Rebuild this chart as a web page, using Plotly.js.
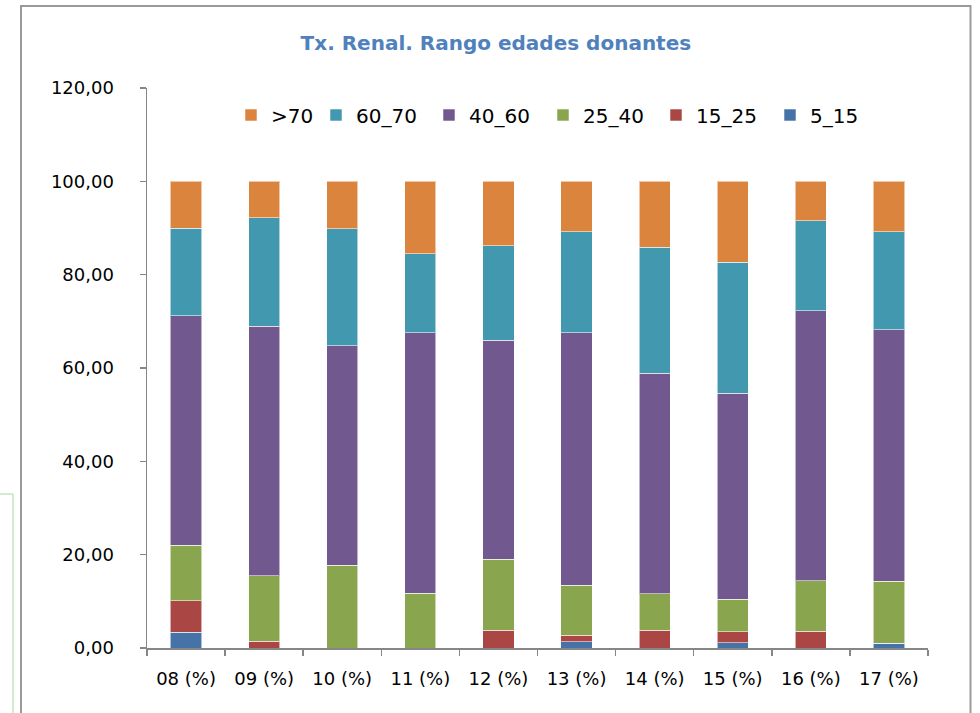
<!DOCTYPE html>
<html>
<head>
<meta charset="utf-8">
<script src="https://cdn.plot.ly/plotly-3.0.1.min.js"></script>
<style>
  html, body { margin: 0; padding: 0; background: #ffffff; }
  #chart { width: 980px; height: 713px; }
</style>
</head>
<body>
<div id="chart"></div>
<script>
// Categories (x axis tick labels)
const categories = ["08 (%)", "09 (%)", "10 (%)", "11 (%)", "12 (%)", "13 (%)", "14 (%)", "15 (%)", "16 (%)", "17 (%)"];

// Series values (percent of donors by age range), bottom to top of each stack
const s5_15  = [3.4, 0.0, 0.0, 0.0, 0.0, 1.3, 0.0, 1.1, 0.0, 1.0];
const s15_25 = [6.7, 1.5, 0.0, 0.0, 3.8, 1.4, 3.8, 2.4, 3.6, 0.0];
const s25_40 = [11.9, 14.0, 17.7, 11.7, 15.2, 10.8, 7.8, 6.9, 10.8, 13.3];
const s40_60 = [49.2, 53.4, 47.1, 55.9, 46.9, 54.1, 47.3, 44.2, 57.9, 53.9];
const s60_70 = [18.7, 23.3, 25.0, 16.9, 20.3, 21.6, 27.0, 28.1, 19.3, 21.0];
const s70    = [10.1, 7.8, 10.2, 15.5, 13.8, 10.8, 14.1, 17.3, 8.4, 10.8];

const seriesNames = ["5_15", "15_25", "25_40", "40_60", "60_70", ">70"];
const seriesValues = [s5_15, s15_25, s25_40, s40_60, s60_70, s70];
const seriesColors = ["#4572A7", "#AA4643", "#89A54E", "#71588F", "#4198AF", "#DB843D"];

const yTicks = [0, 20, 40, 60, 80, 100, 120];

const FONT = "DejaVu Sans, Lato, sans-serif";

// legend entry widths (layout, not data)
const legendWidths = [68, 69, 68, 69, 68, 40];

const traces = seriesNames.map((name, i) => ({
  type: "bar",
  name: name,
  x: categories,
  y: seriesValues[i],
  legendwidth: legendWidths[i],
  marker: { color: seriesColors[i], line: { color: "rgba(255,255,255,0.55)", width: 1 } },
  hoverinfo: "x+y+name"
}));

// pixel helpers for decorative frame (plot area: x 147..928, y 88..648)
const L = 147, R = 52, T = 88, B = 65, W = 980, H = 713;
const pw = W - L - R, ph = H - T - B;
const px = v => (v - L) / pw;
const py = v => (H - B - v) / ph;

const layout = {
  width: W,
  height: H,
  margin: { l: L, r: R, t: T, b: B, pad: 0 },
  paper_bgcolor: "#ffffff",
  plot_bgcolor: "#ffffff",
  separators: ",.",
  font: { family: FONT, size: 18, color: "#000000" },
  title: {
    text: "<b>Tx. Renal. Rango edades donantes</b>",
    font: { family: FONT, size: 20, color: "#4F81BD" },
    xref: "container", x: 0.506, xanchor: "center",
    yref: "container", y: 1 - 43 / H, yanchor: "middle"
  },
  barmode: "stack",
  bargap: 0.6,
  showlegend: true,
  legend: {
    orientation: "h",
    traceorder: "reversed",
    x: px(231), xanchor: "left",
    y: py(115), yanchor: "middle",
    font: { family: FONT, size: 20, color: "#000000" },
    bgcolor: "rgba(0,0,0,0)"
  },
  xaxis: {
    type: "category",
    categoryorder: "array",
    categoryarray: categories,
    tickson: "boundaries",
    ticks: "outside",
    ticklen: 6,
    tickwidth: 1.5,
    tickcolor: "#868686",
    showline: true,
    linecolor: "#868686",
    linewidth: 1.5,
    showgrid: false,
    zeroline: false,
    ticklabelstandoff: 14,
    tickfont: { family: FONT, size: 18, color: "#000000" }
  },
  yaxis: {
    range: [0, 120],
    tickmode: "array",
    tickvals: yTicks,
    tickformat: ".2f",
    ticks: "outside",
    ticklen: 6,
    tickwidth: 1.5,
    tickcolor: "#868686",
    showline: true,
    linecolor: "#868686",
    linewidth: 1.5,
    showgrid: false,
    zeroline: false,
    ticklabelstandoff: 22,
    tickfont: { family: FONT, size: 18, color: "#000000" }
  },
  shapes: [
    // outer chart frame
    { type: "rect", xref: "paper", yref: "paper",
      x0: px(21), x1: px(970.5), y0: py(760), y1: py(6),
      line: { color: "#9a9a9a", width: 2 }, fillcolor: "rgba(0,0,0,0)", layer: "below" },
    // light green box at left edge
    { type: "rect", xref: "paper", yref: "paper",
      x0: px(-10), x1: px(13), y0: py(760), y1: py(494),
      line: { color: "#a6d8a0", width: 1 }, fillcolor: "rgba(0,0,0,0)", layer: "below" }
  ]
};

Plotly.newPlot("chart", traces, layout, { displayModeBar: false, staticPlot: true });
</script>
</body>
</html>
